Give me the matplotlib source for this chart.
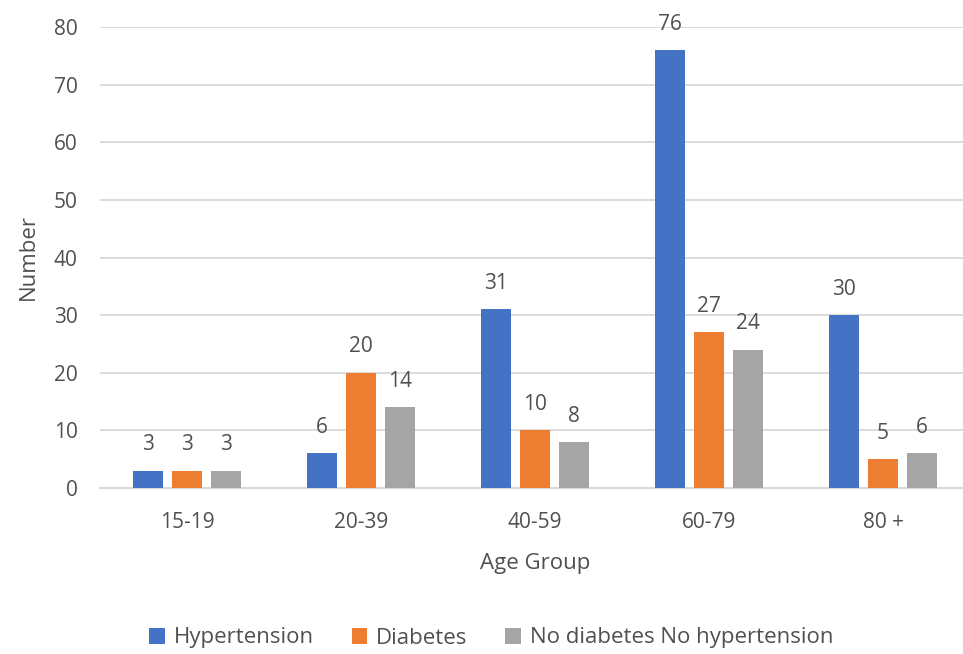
import matplotlib.pyplot as plt
import numpy as np

# Data
age_groups = ['15-19', '20-39', '40-59', '60-79', '80 +']
hypertension = [3, 6, 31, 76, 30]
diabetes = [3, 20, 10, 27, 5]
no_diabetes_no_hyp = [3, 14, 8, 24, 6]

series = [
    ('Hypertension', hypertension, '#4472C4'),
    ('Diabetes', diabetes, '#ED7D31'),
    ('No diabetes No hypertension', no_diabetes_no_hyp, '#A5A5A5'),
]

plt.rcParams['font.family'] = ['Open Sans', 'DejaVu Sans']
text_color = '#505050'
fs = 15

fig = plt.figure(figsize=(9.63, 6.54), dpi=100)
# axes placed in pixel terms: left 100, right 970, bottom 166, top 27
ax = fig.add_axes([100 / 963, 166 / 654, 870 / 963, (488 - 27) / 654])

x = np.arange(len(age_groups))
bar_w = 0.172
step = 0.224

for i, (name, vals, color) in enumerate(series):
    pos = x + (i - 1) * step
    bars = ax.bar(pos, vals, width=bar_w, color=color, label=name, zorder=3)
    for b, v in zip(bars, vals):
        ax.annotate(str(v), xy=(b.get_x() + b.get_width() / 2, v),
                    xytext=(0, 11), textcoords='offset points',
                    ha='center', va='bottom', fontsize=fs, color=text_color)

ax.set_xlim(-0.5, 4.5)
ax.set_ylim(0, 80)
ax.set_yticks(range(0, 81, 10))
ax.set_xticks(x)
ax.set_xticklabels(age_groups)
ax.grid(axis='y', color='#D9D9D9', linewidth=1.3, zorder=0)
for side in ['top', 'right', 'left']:
    ax.spines[side].set_visible(False)
ax.spines['bottom'].set_color('#D9D9D9')
ax.spines['bottom'].set_linewidth(1.5)
ax.tick_params(axis='both', length=0, labelsize=fs, colors=text_color)
ax.tick_params(axis='x', pad=17)
ax.tick_params(axis='y', pad=16)

ax.set_xlabel('Age Group', fontsize=fs + 1, color=text_color, labelpad=15)
ax.set_ylabel('Number', fontsize=fs + 1, color=text_color, labelpad=11)

handles, labels = ax.get_legend_handles_labels()
fig.legend(handles, labels, loc='center', bbox_to_anchor=(0.51, 1 - 638 / 654),
           ncol=3, frameon=False, fontsize=fs + 1, labelcolor=text_color,
           handlelength=0.7, handleheight=0.7, handletextpad=0.4, columnspacing=1.7)

fig.savefig('out.png', dpi=100)
